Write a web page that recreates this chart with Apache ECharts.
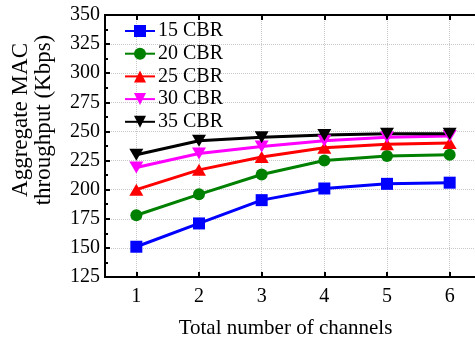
<!DOCTYPE html>
<html>
<head>
<meta charset="utf-8">
<script src="https://cdn.jsdelivr.net/npm/echarts@6/dist/echarts.min.js"></script>
<style>
html,body{margin:0;padding:0;background:#fff;}
#main{width:475px;height:343px;}
</style>
</head>
<body>
<div id="main"></div>
<script>
// channels on x, throughput (Kbps) per CBR load
var channels = ['1', '2', '3', '4', '5', '6'];
var cbr15 = [151, 171, 191, 201, 205, 206];
var cbr20 = [178, 196, 213, 225, 229, 230];
var cbr25 = [200, 217, 228, 236, 239, 240];
var cbr30 = [219, 231, 237, 242, 245, 246];
var cbr35 = [230, 242, 245, 247, 248, 248];
var seriesNames = ['15 CBR', '20 CBR', '25 CBR', '30 CBR', '35 CBR'];

var font = 'Liberation Serif';
var chart = echarts.init(document.getElementById('main'));

function line(name, data, color, symbol, size, rotate) {
    return {
        name: name,
        type: 'line',
        data: data,
        symbol: symbol,
        symbolSize: size,
        symbolRotate: rotate || 0,
        lineStyle: {color: color, width: 3},
        itemStyle: {color: color},
        emphasis: {disabled: true}
    };
}

var option = {
    animation: false,
    textStyle: {fontFamily: font},
    grid: {
        left: 105, top: 15, bottom: 66, right: -6,
        outerBoundsMode: 'none',
        containLabel: false,
        show: true, borderColor: '#000', borderWidth: 2
    },
    legend: {
        orient: 'vertical',
        left: 119, top: 16,
        itemWidth: 30, itemHeight: 15,
        itemGap: 2.7,
        textStyle: {fontFamily: font, fontSize: 20, color: '#000', lineHeight: 20, padding: [0, 0, 0, -2]},
        data: seriesNames
    },
    xAxis: [{
        type: 'category',
        data: channels,
        boundaryGap: true,
        name: 'Total number of channels',
        nameLocation: 'middle',
        nameGap: 41,
        nameTextStyle: {fontFamily: font, fontSize: 21, color: '#000', padding: [0, 15, 0, 0]},
        axisLine: {lineStyle: {color: '#000', width: 2}},
        axisTick: {show: true, inside: true, length: 5, alignWithLabel: true, lineStyle: {color: '#000', width: 2}},
        axisLabel: {fontFamily: font, fontSize: 20, color: '#000', margin: 10},
        splitLine: {show: true, alignWithLabel: true, lineStyle: {color: '#c8c8c8', type: 'dotted', width: 1}}
    }, {
        type: 'category',
        data: channels,
        position: 'top',
        boundaryGap: true,
        axisLine: {lineStyle: {color: '#000', width: 2}},
        axisTick: {show: true, inside: true, length: 5, alignWithLabel: true, lineStyle: {color: '#000', width: 2}},
        axisLabel: {show: false},
        splitLine: {show: false}
    }],
    yAxis: {
        type: 'value',
        min: 125, max: 350, interval: 25,
        axisLine: {show: true, lineStyle: {color: '#000', width: 2}},
        axisTick: {show: true, inside: true, length: 5, lineStyle: {color: '#000', width: 2}},
        minorTick: {show: true, splitNumber: 2, length: 3, lineStyle: {color: '#000', width: 2}},
        axisLabel: {fontFamily: font, fontSize: 20, color: '#000', margin: 5},
        splitLine: {show: true, lineStyle: {color: '#c8c8c8', type: 'dotted', width: 1}}
    },
    graphic: [{
        type: 'text',
        x: 32, y: 120,
        rotation: Math.PI / 2,
        style: {
            text: 'Aggregate MAC\nthroughput (Kbps)',
            fontFamily: font, fontSize: 23, lineHeight: 23,
            fill: '#000', align: 'center', verticalAlign: 'middle'
        }
    }],
    series: [
        line(seriesNames[0], cbr15, '#0000ff', 'rect', 12),
        line(seriesNames[1], cbr20, '#008000', 'circle', 12),
        line(seriesNames[2], cbr25, '#ff0000', 'triangle', [14, 12]),
        line(seriesNames[3], cbr30, '#ff00ff', 'triangle', [14, 12], 180),
        line(seriesNames[4], cbr35, '#000000', 'triangle', [14, 12], 180)
    ]
};

option && chart.setOption(option);
</script>
</body>
</html>
